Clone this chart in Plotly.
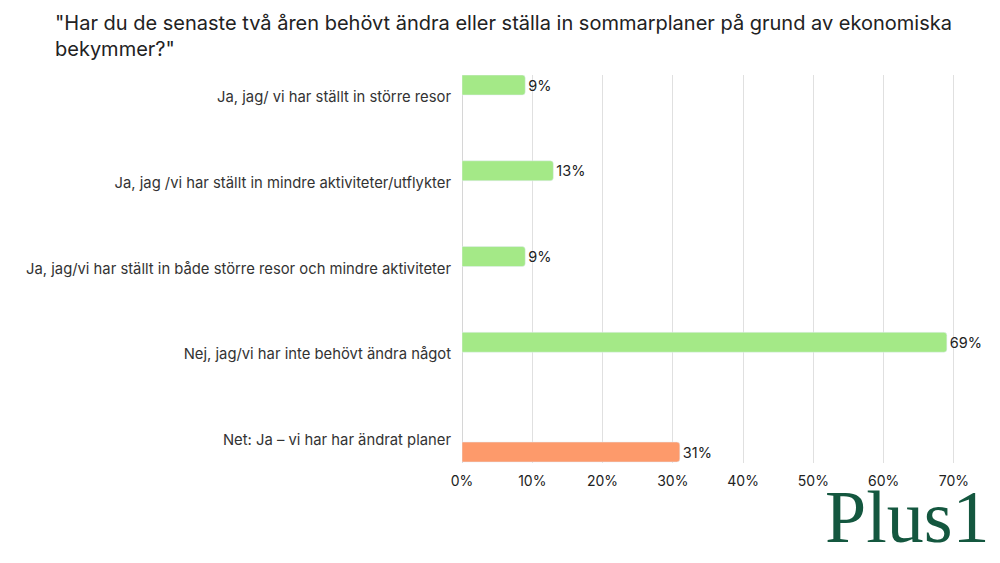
import plotly.graph_objects as go

# data
categories = [
    "Ja, jag/ vi har ställt in större resor",
    "Ja, jag /vi har ställt in mindre aktiviteter/utflykter",
    "Ja, jag/vi har ställt in både större resor och mindre aktiviteter",
    "Nej, jag/vi har inte behövt ändra något",
    "Net: Ja – vi har har ändrat planer",
]
answers = [9, 13, 9, 69, None]
net = [None, None, None, None, 31]
tick_vals = [0, 10, 20, 30, 40, 50, 60, 70]
tick_text = ["0%", "10%", "20%", "30%", "40%", "50%", "60%", "70%"]

GREEN = "#a4e987"
ORANGE = "#fd9a6b"
FONT = "Inter"


def labels(vals):
    return [f"{v}%" if v is not None else "" for v in vals]


fig = go.Figure()
fig.add_trace(go.Bar(
    y=categories, x=answers, orientation="h",
    marker_color=GREEN,
    text=labels(answers), textposition="outside",
    textfont=dict(size=14.5, color="#222222", family=FONT),
    cliponaxis=False,
))
fig.add_trace(go.Bar(
    y=categories, x=net, orientation="h",
    marker_color=ORANGE,
    text=labels(net), textposition="outside",
    textfont=dict(size=14.5, color="#222222", family=FONT),
    cliponaxis=False,
))

# page body has an 8px margin, so the margins are set 8px smaller
fig.update_layout(
    width=1000, height=563,
    margin=dict(l=454, r=52, t=67, b=108, autoexpand=False),
    paper_bgcolor="white", plot_bgcolor="white",
    barmode="group", bargap=0.44, bargroupgap=0.17,
    barcornerradius=3,
    showlegend=False,
    font=dict(family=FONT, size=14, color="#333333"),
)
fig.update_xaxes(
    range=[0, 70.3], tickvals=tick_vals, ticktext=tick_text,
    showgrid=True, gridcolor="#e0e0e0", gridwidth=1,
    zeroline=True, zerolinecolor="#d6d6d6", zerolinewidth=1,
    tickfont=dict(size=14, color="#222222"), ticks="", ticklabelstandoff=8,
    automargin=False,
)
fig.update_yaxes(
    type="category", range=[4.268, -0.257],
    showgrid=False, zeroline=False, ticks="", ticklabelstandoff=10,
    tickfont=dict(size=14.8, color="#333333"), automargin=False,
)

# title
fig.add_annotation(
    text="\"Har du de senaste två åren behövt ändra eller ställa in sommarplaner på grund av ekonomiska<br>bekymmer?\"",
    xref="paper", yref="paper", x=-0.828, y=1.169,
    xanchor="left", yanchor="top", align="left", showarrow=False,
    font=dict(family=FONT, size=20, color="#222222"),
)

# logo
fig.add_annotation(
    text="Plus1", xref="paper", yref="paper", x=1.072, y=-0.139,
    xanchor="right", yanchor="middle", showarrow=False,
    font=dict(family="Liberation Serif", size=74, color="#14573f"),
)

fig.write_html("out.html")
